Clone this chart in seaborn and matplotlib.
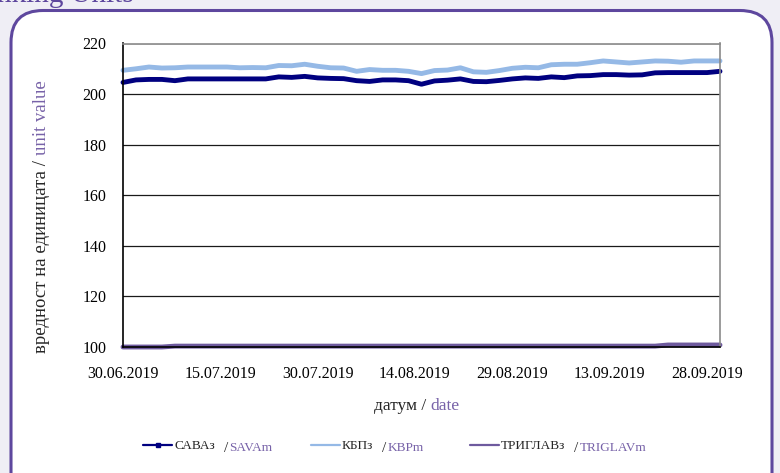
import pandas as pd
import matplotlib.pyplot as plt
import matplotlib.dates as mdates
import seaborn as sns
from matplotlib.patches import FancyBboxPatch
from matplotlib.lines import Line2D
from matplotlib.transforms import IdentityTransform

# unit values, one reading every second day from 30.06.2019 to 30.09.2019
dates = pd.date_range('2019-06-30', '2019-09-30', freq='2D')
sava = [204.6, 205.6, 205.8, 205.8, 205.3, 206.0, 206.0, 206.0, 206.0, 206.0,
        206.0, 206.0, 206.8, 206.6, 207.0, 206.4, 206.2, 206.1, 205.3, 205.0,
        205.6, 205.6, 205.3, 203.9, 205.2, 205.5, 206.0, 205.0, 204.9, 205.4,
        206.0, 206.4, 206.2, 206.8, 206.5, 207.2, 207.3, 207.7, 207.7, 207.5,
        207.6, 208.4, 208.5, 208.5, 208.5, 208.5, 209.0]
kbp = [209.4, 210.0, 210.7, 210.3, 210.4, 210.7, 210.7, 210.7, 210.7, 210.4,
       210.5, 210.4, 211.3, 211.2, 211.8, 211.0, 210.4, 210.3, 209.0, 209.7,
       209.4, 209.4, 209.0, 208.1, 209.3, 209.5, 210.4, 208.8, 208.6, 209.3,
       210.2, 210.6, 210.4, 211.6, 211.8, 211.8, 212.4, 213.1, 212.7, 212.3,
       212.7, 213.1, 213.0, 212.6, 213.1, 213.1, 213.1]
triglav = [100.0, 100.0, 100.0, 100.0, 100.35, 100.35, 100.35, 100.35, 100.35, 100.35,
           100.35, 100.35, 100.35, 100.35, 100.35, 100.35, 100.35, 100.35, 100.35, 100.35,
           100.35, 100.35, 100.35, 100.35, 100.35, 100.35, 100.35, 100.35, 100.35, 100.35,
           100.35, 100.35, 100.35, 100.35, 100.35, 100.35, 100.35, 100.35, 100.35, 100.35,
           100.35, 100.35, 100.8, 100.8, 100.8, 100.8, 100.8]

funds_mk = ['САВАз', 'КБПз', 'ТРИГЛАВз']
funds_en = ['SAVAm', 'KBPm', 'TRIGLAVm']
colors = ['#000080', '#95B9E6', '#6E5A9E']
yticks = [100, 120, 140, 160, 180, 200, 220]
xticks = pd.date_range('2019-06-30', periods=7, freq='15D')

PURPLE = '#7762A8'

sns.set_style('white')
plt.rcParams['font.family'] = ['Liberation Serif', 'DejaVu Serif']

df = pd.concat([
    pd.DataFrame({'date': dates, 'value': sava, 'fund': funds_mk[0]}),
    pd.DataFrame({'date': dates, 'value': kbp, 'fund': funds_mk[1]}),
    pd.DataFrame({'date': dates, 'value': triglav, 'fund': funds_mk[2]}),
])

W, H = 780, 473
fig = plt.figure(figsize=(W / 100, H / 100), dpi=100)
fig.patch.set_facecolor('#EFEEF5')

# rounded white panel behind the chart
panel = FancyBboxPatch((11, -40), 761, 502.5, boxstyle='round,pad=0,rounding_size=32',
                       transform=IdentityTransform(), facecolor='white',
                       edgecolor='#5E479E', linewidth=2.2, zorder=-1)
fig.add_artist(panel)
# page heading, cut by the top edge as in the source
fig.text(-3 / W, 1 - 2 / H, 'nking Units', color='#5E479E', fontsize=21,
         va='baseline', ha='left')

ax = fig.add_axes([123 / W, 1 - 347 / H, 597 / W, 303.5 / H])
sns.lineplot(data=df, x='date', y='value', hue='fund', palette=colors,
             linewidth=3.5, ax=ax, legend=False)
for ln in ax.get_lines():
    ln.set_clip_on(False)

ax.set_ylim(100, 220)
ax.set_xlim(pd.Timestamp('2019-06-30'), pd.Timestamp('2019-09-30'))
ax.set_yticks(yticks)
ax.set_xticks(xticks)
ax.xaxis.set_major_formatter(mdates.DateFormatter('%d.%m.%Y'))
ax.yaxis.grid(True, color='#1a1a1a', linewidth=0.9)
ax.xaxis.grid(False)
ax.set_axisbelow(True)
for s in ['left', 'bottom']:
    ax.spines[s].set_color('black')
    ax.spines[s].set_linewidth(1.2)
for s in ['top', 'right']:
    ax.spines[s].set_color('#8a8a8a')
    ax.spines[s].set_linewidth(1.2)
ax.tick_params(axis='both', direction='out', length=5, width=1, color='black',
               labelsize=11.5, labelcolor='black')
ax.tick_params(axis='y', pad=7)
ax.tick_params(axis='x', pad=9)
ax.set_xlabel('')
ax.set_ylabel('')

# legend
handles = [Line2D([], [], color=colors[0], lw=1.6, marker='s', ms=3.5),
           Line2D([], [], color=colors[1], lw=1.6),
           Line2D([], [], color=colors[2], lw=1.6)]
leg = fig.legend(handles, funds_mk, loc='center left', bbox_to_anchor=(143 / W, 1 - 446 / H),
                 ncol=3, frameon=False, handlelength=2.2, handletextpad=0.15,
                 columnspacing=7.3, fontsize=9.5, borderpad=0, borderaxespad=0)

fig.canvas.draw()
r = fig.canvas.get_renderer()

# english names after the legend labels
for t, name in zip(leg.get_texts(), funds_en):
    bb = t.get_window_extent(r)
    yc = (bb.y0 + bb.y1) / 2 - 2
    sl = fig.text((bb.x1 + 9) / W, yc / H, '/', fontsize=11, va='center', ha='left')
    sb = sl.get_window_extent(r)
    fig.text((sb.x1 + 1) / W, yc / H, name, fontsize=9.5, color=PURPLE, va='center', ha='left')

# x label in two colours
xa = fig.text(0, (H - 406) / H, 'датум / ', fontsize=12.5, va='center', ha='left')
xb = fig.text(0, (H - 406) / H, 'date', fontsize=12.5, color=PURPLE, va='center', ha='left')
wa = xa.get_window_extent(r).width
wb = xb.get_window_extent(r).width
x0 = 417 - (wa + wb) / 2
xa.set_x(x0 / W)
xb.set_x((x0 + wa) / W)

# y label in two colours (rotated, reads bottom to top)
ya = fig.text(42 / W, (H - 353) / H, 'вредност на единицата / ', fontsize=13.5,
              rotation=90, rotation_mode='anchor', ha='left', va='center')
ha_ = ya.get_window_extent(r).height
fig.text(42 / W, (H - 353 + ha_) / H, 'unit value', fontsize=13.5, color=PURPLE,
         rotation=90, rotation_mode='anchor', ha='left', va='center')

fig.savefig('out.png', dpi=100, facecolor=fig.get_facecolor())
